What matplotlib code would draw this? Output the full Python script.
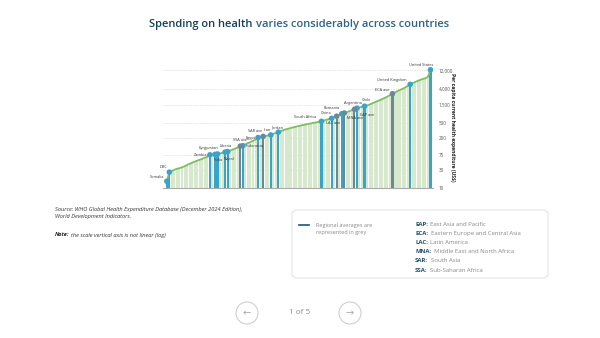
import numpy as np
import matplotlib.pyplot as plt
from matplotlib.patches import FancyBboxPatch, Ellipse

plt.rcParams['font.family'] = ['Open Sans', 'DejaVu Sans']

# Dépenses de santé par habitant (US$), pays classés par ordre croissant
spend = [15, 26, 28, 30, 32, 33, 35, 37, 40, 43,
         46, 49, 52, 55, 58, 62, 66, 74, 75, 76,
         78, 80, 84, 87, 90, 95, 102, 108, 115, 125,
         128, 140, 150, 160, 172, 185, 210, 215, 225, 232,
         238, 245, 262, 278, 290, 310, 330, 345, 360, 375,
         390, 405, 420, 435, 450, 465, 480, 495, 510, 525,
         540, 560, 585, 615, 645, 670, 710, 760, 820, 880,
         920, 970, 1030, 1090, 1150, 1230, 1290, 1340, 1390, 1450,
         1540, 1650, 1760, 1880, 2000, 2150, 2300, 2480, 2700, 2950,
         3200, 3450, 3700, 3950, 4300, 4700, 5200, 5600, 6000, 6400,
         6800, 7200, 7500, 8200, 12500]

# pays et moyennes régionales mis en évidence : (rang, nom)
countries = [(0, 'Somalia'), (1, 'DRC'), (17, 'Zambia'), (19, 'Kyrgyzstan'),
             (20, 'India'), (23, 'Liberia'), (24, 'Nepal'), (30, 'Indonesia'),
             (36, 'Egypt'), (41, 'Iran'), (44, 'Jordan'), (61, 'South Africa'),
             (65, 'China'), (69, 'Romania'), (75, 'Argentina'), (78, 'Chile'),
             (96, 'United Kingdom'), (104, 'United States')]
regions = [(29, 'SSA ave'), (38, 'SAR ave'), (67, 'LAC ave'), (70, 'MNA ave'),
           (74, 'EAP ave'), (89, 'ECA ave')]

# décalage des étiquettes (pixels) et alignement
offsets = {'Somalia': (-3, 4, 'right'), 'DRC': (-2, 5, 'right'),
           'Zambia': (-3, 0, 'right'), 'Kyrgyzstan': (-6, 6, 'center'),
           'India': (1, -6, 'center'), 'Liberia': (1, 6, 'center'),
           'Nepal': (1, -7, 'center'), 'SSA ave': (0, 6, 'center'),
           'Indonesia': (3, 0, 'left'), 'Egypt': (-2, 0, 'right'),
           'SAR ave': (-1, 5, 'right'), 'Iran': (-3, 5, 'center'),
           'Jordan': (-1, 5, 'center'), 'South Africa': (-5, 4, 'right'),
           'China': (-6, 5, 'center'), 'LAC ave': (-4, -7, 'center'),
           'Romania': (-10, 6, 'center'), 'MNA ave': (3, -5, 'left'),
           'Argentina': (-4, 5, 'center'), 'EAP ave': (6, -6, 'left'),
           'Chile': (2, 6, 'center'), 'ECA ave': (-3, 4, 'right'),
           'United Kingdom': (-4, 4, 'right'), 'United States': (-9, 5, 'center')}

yticks = [10, 30, 75, 200, 500, 1500, 4000, 12000]
ytick_labels = ['10', '30', '75', '200', '500', '1,500', '4,000', '12,000']

legend_codes = [('EAP:', 'East Asia and Pacific'),
                ('ECA:', 'Eastern Europe and Central Asia'),
                ('LAC:', 'Latin America'),
                ('MNA:', 'Middle East and North Africa'),
                ('SAR:', 'South Asia'),
                ('SSA:', 'Sub-Saharan Africa')]

W, H = 600, 338
fig = plt.figure(figsize=(6, 3.38), dpi=100)
fig.patch.set_facecolor('white')


def fx(px):
    return px / W


def fy(py):
    return 1 - py / H


def text_after(t, y, s, gap=0.003, **kw):
    """Écrit s juste à droite du texte t"""
    fig.canvas.draw()
    b = t.get_window_extent()
    return fig.text(b.x1 / fig.bbox.width + gap, y, s, **kw)


ax = fig.add_axes([fx(163), fy(188), (433 - 163) / W, 126 / H])
ax.set_yscale('log')

x = np.arange(len(spend))
ax.bar(x, spend, width=0.8, color='#d6e9cc', zorder=1)

blue = '#3aa3c9'
grey = '#6a8898'
for i, name in countries:
    ax.bar(i, spend[i], width=0.85, color=blue, zorder=2)
for i, name in regions:
    ax.bar(i, spend[i], width=0.85, color=grey, zorder=2)

ax.plot(x, spend, color='#7cbf5e', lw=1.3, zorder=3)

for group, col in ((countries, blue), (regions, grey)):
    idx = [i for i, _ in group]
    ax.scatter(idx, [spend[i] for i in idx], s=16, color=col, zorder=4,
               edgecolors='none')
    for i, name in group:
        dx, dy, ha = offsets[name]
        ax.annotate(name, (i, spend[i]), xytext=(dx, dy), textcoords='offset pixels',
                    ha=ha, va='center', fontsize=2.8, color='#333333', zorder=5)

ax.set_xlim(-1.5, len(spend))
ax.set_ylim(10, 20000)
ax.yaxis.tick_right()
ax.set_yticks(yticks)
ax.set_yticklabels(ytick_labels)
ax.minorticks_off()
ax.tick_params(axis='y', length=0, labelsize=3.3, labelcolor='#555555', pad=4)
ax.tick_params(axis='x', bottom=False, labelbottom=False)
ax.yaxis.grid(True, ls=(0, (1, 1.5)), color='#cccccc', lw=0.5)
ax.set_axisbelow(True)
for s in ('top', 'left', 'right'):
    ax.spines[s].set_visible(False)
ax.spines['bottom'].set_color('#aaaaaa')
ax.spines['bottom'].set_linewidth(0.8)

fig.text(fx(452), fy(127), 'Per capita current health expenditure (US$)', rotation=-90,
         ha='center', va='center', fontsize=3.6, fontweight='bold', color='#222222')

# titre en deux couleurs
t1 = fig.text(fx(149), fy(24), 'Spending on health', ha='left', va='center',
              fontsize=8.0, fontweight='semibold', color='#163f5c')
text_after(t1, fy(24), 'varies considerably across countries', gap=0.006, ha='left',
           va='center', fontsize=8.0, fontweight='semibold', color='#2c6587')

# source et note
fig.text(fx(55), fy(213), 'Source: WHO Global Health Expenditure Database (December 2024 Edition),\n'
         'World Development Indicators.', ha='left', va='center', fontsize=4.1,
         style='italic', color='#333333', linespacing=1.4)
tn = fig.text(fx(55), fy(235), 'Note:', ha='left', va='center', fontsize=4.1,
              style='italic', fontweight='bold', color='#222222')
text_after(tn, fy(235), 'the scale vertical axis is not linear (log)', ha='left',
           va='center', fontsize=4.1, style='italic', color='#333333')

# encadré de légende
box = FancyBboxPatch((fx(292), fy(278)), fx(548 - 292), (278 - 210) / H,
                     boxstyle='round,pad=0,rounding_size=0.012', transform=fig.transFigure,
                     facecolor='white', edgecolor='#e3e6e8', lw=0.8)
fig.patches.append(box)
fig.add_artist(plt.Line2D([fx(299), fx(309)], [fy(225), fy(225)], color='#2c6587', lw=1.3))
fig.text(fx(316), fy(229), 'Regional averages are\nrepresented in grey', ha='left',
         va='center', fontsize=4.0, color='#888888', linespacing=1.3)
for k, (code, desc) in enumerate(legend_codes):
    yy = fy(224 + k * 9.2)
    tc = fig.text(fx(415), yy, code, ha='left', va='center', fontsize=4.3,
                  fontweight='bold', color='#1d4e6b')
    text_after(tc, yy, desc, gap=0.004, ha='left', va='center', fontsize=4.3,
               color='#888888')

# navigation
for cx, arrow in ((247, '←'), (350, '→')):
    fig.patches.append(Ellipse((fx(cx), fy(313)), 22 / W, 22 / H, transform=fig.transFigure,
                               facecolor='white', edgecolor='#cfcfcf', lw=0.8))
    fig.text(fx(cx), fy(313), arrow, ha='center', va='center', fontsize=7,
             color='#aaaaaa', family=['DejaVu Sans'])
fig.text(fx(300), fy(313), '1 of 5', ha='center', va='center', fontsize=5.8, color='#888888')

fig.savefig('out.png', dpi=100, facecolor='white')
